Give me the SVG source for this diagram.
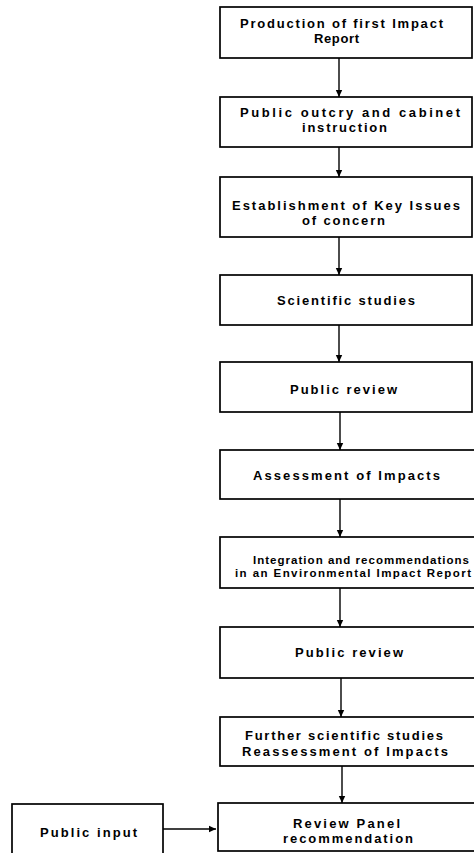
<svg xmlns="http://www.w3.org/2000/svg" width="474" height="853" viewBox="0 0 474 853">
<style>
.box{fill:#fff;stroke:#000;stroke-width:1.7}
.t{font-family:"Liberation Sans",Arial,sans-serif;font-weight:bold;font-size:13px;fill:#000}
.s{font-size:11.5px}
.c{stroke:#000;stroke-width:1.4;fill:none}
</style>
<defs>
<marker id="ah" markerWidth="8" markerHeight="8" refX="7" refY="4" orient="auto" markerUnits="userSpaceOnUse">
<path d="M0,0.8 L7,4 L0,7.2 Z" fill="#000"/>
</marker>
</defs>
<g id="n1"><rect class="box" x="220" y="7" width="252" height="51"/><text class="t" x="240" y="28" textLength="203" lengthAdjust="spacing">Production of first Impact</text><text class="t" x="314" y="43" textLength="45" lengthAdjust="spacing">Report</text></g>
<g id="n2"><rect class="box" x="220" y="97" width="252" height="50"/><text class="t" x="240" y="117" textLength="220" lengthAdjust="spacing">Public outcry and cabinet</text><text class="t" x="302" y="132" textLength="85" lengthAdjust="spacing">instruction</text></g>
<g id="n3"><rect class="box" x="220" y="177" width="252" height="60"/><text class="t" x="232" y="210" textLength="228" lengthAdjust="spacing">Establishment of Key Issues</text><text class="t" x="302" y="225" textLength="83" lengthAdjust="spacing">of concern</text></g>
<g id="n4"><rect class="box" x="220" y="275" width="252" height="50"/><text class="t" x="277" y="305" textLength="138" lengthAdjust="spacing">Scientific studies</text></g>
<g id="n5"><rect class="box" x="220" y="362" width="252" height="50"/><text class="t" x="290" y="394" textLength="107" lengthAdjust="spacing">Public review</text></g>
<g id="n6"><rect class="box" x="220" y="450" width="256" height="49"/><text class="t" x="253" y="480" textLength="187" lengthAdjust="spacing">Assessment of Impacts</text></g>
<g id="n7"><rect class="box" x="220" y="537" width="256" height="51"/><text class="t s" x="253" y="564" textLength="216" lengthAdjust="spacing">Integration and recommendations</text><text class="t s" x="235" y="577" textLength="236" lengthAdjust="spacing">in an Environmental Impact Report</text></g>
<g id="n8"><rect class="box" x="220" y="627" width="256" height="51"/><text class="t" x="295" y="657" textLength="108" lengthAdjust="spacing">Public review</text></g>
<g id="n9"><rect class="box" x="220" y="717" width="256" height="49"/><text class="t" x="245" y="740" textLength="198" lengthAdjust="spacing">Further scientific studies</text><text class="t" x="242" y="756" textLength="206" lengthAdjust="spacing">Reassessment of Impacts</text></g>
<g id="n10"><rect class="box" x="218" y="803" width="258" height="48"/><text class="t" x="293" y="828" textLength="107" lengthAdjust="spacing">Review Panel</text><text class="t" x="283" y="843" textLength="130" lengthAdjust="spacing">recommendation</text></g>
<g id="n11"><rect class="box" x="12" y="804" width="151" height="52"/><text class="t" x="40" y="837" textLength="97" lengthAdjust="spacing">Public input</text></g>
<g id="connectors">
<line class="c" x1="339" y1="58" x2="339" y2="97" marker-end="url(#ah)"/>
<line class="c" x1="339" y1="147" x2="339" y2="177" marker-end="url(#ah)"/>
<line class="c" x1="339" y1="237" x2="339" y2="275" marker-end="url(#ah)"/>
<line class="c" x1="339" y1="325" x2="339" y2="362" marker-end="url(#ah)"/>
<line class="c" x1="340" y1="412" x2="340" y2="450" marker-end="url(#ah)"/>
<line class="c" x1="340" y1="499" x2="340" y2="537" marker-end="url(#ah)"/>
<line class="c" x1="340" y1="588" x2="340" y2="627" marker-end="url(#ah)"/>
<line class="c" x1="341" y1="678" x2="341" y2="717" marker-end="url(#ah)"/>
<line class="c" x1="342" y1="766" x2="342" y2="803" marker-end="url(#ah)"/>
<line class="c" x1="163" y1="829" x2="216" y2="829" marker-end="url(#ah)"/>
</g>
</svg>
